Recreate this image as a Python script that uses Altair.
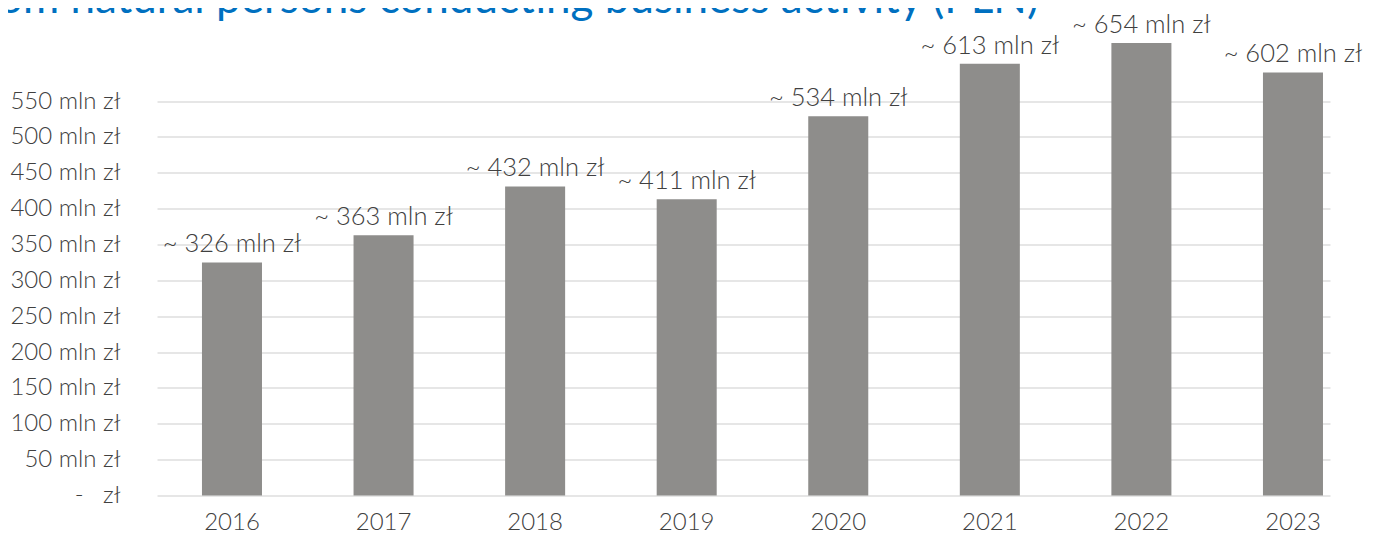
import altair as alt
import pandas as pd

years = ["2016", "2017", "2018", "2019", "2020", "2021", "2022", "2023"]
bar_values = [325, 363, 431, 413, 529, 602, 631, 590]
label_values = [326, 363, 432, 411, 534, 613, 654, 602]
y_ticks = [0, 50, 100, 150, 200, 250, 300, 350, 400, 450, 500, 550]
title_text = "om natural persons conducting business activity (PLN)"

df = pd.DataFrame({
    "year": years,
    "value": bar_values,
    "label": [f"~ {v} mln zł" for v in label_values],
})

FONT = "Lato"
TXT = "#404040"

x = alt.X("year:N", sort=years, title=None,
          scale=alt.Scale(paddingInner=0.604, paddingOuter=0.1715, align=0.865),
          axis=alt.Axis(labelAngle=0, labelFontSize=24, labelFont=FONT, labelFontWeight=300,
                        labelColor=TXT, domain=False, ticks=False, labelPadding=15, grid=False))
y = alt.Y("value:Q", title=None,
          scale=alt.Scale(domain=[0, 661], nice=False, zero=True),
          axis=alt.Axis(values=y_ticks, domain=False, ticks=False, labelPadding=37,
                        labelFontSize=24, labelFont=FONT, labelFontWeight=300, labelColor=TXT,
                        gridColor="#DEDEDE", gridWidth=1.5,
                        labelExpr="datum.value == 0 ? '-\u00a0\u00a0\u00a0zł' : datum.value + ' mln zł'"))

bars = alt.Chart(df).mark_bar(color="#8E8D8B").encode(x=x, y=y)

labels = alt.Chart(df).mark_text(
    baseline="alphabetic", dy=-10, fontSize=25.5, font=FONT, fontWeight=300, color=TXT
).encode(x=alt.X("year:N", sort=years), y="value:Q", text="label:N")

title = alt.Chart(pd.DataFrame({"t": [title_text]})).mark_text(
    align="left", baseline="alphabetic", fontSize=44, font=FONT, color="#0070C0"
).encode(x=alt.value(-159), y=alt.value(-8.5), text="t:N")

chart = alt.layer(bars, labels, title).properties(
    width=1173, height=474,
    autosize=alt.AutoSizeParams(type="none"),
    padding={"left": 149, "top": 13.5, "right": 37, "bottom": 45},
).configure_view(stroke=None)

chart.save("out.html", embed_options={"renderer": "svg", "actions": False})
